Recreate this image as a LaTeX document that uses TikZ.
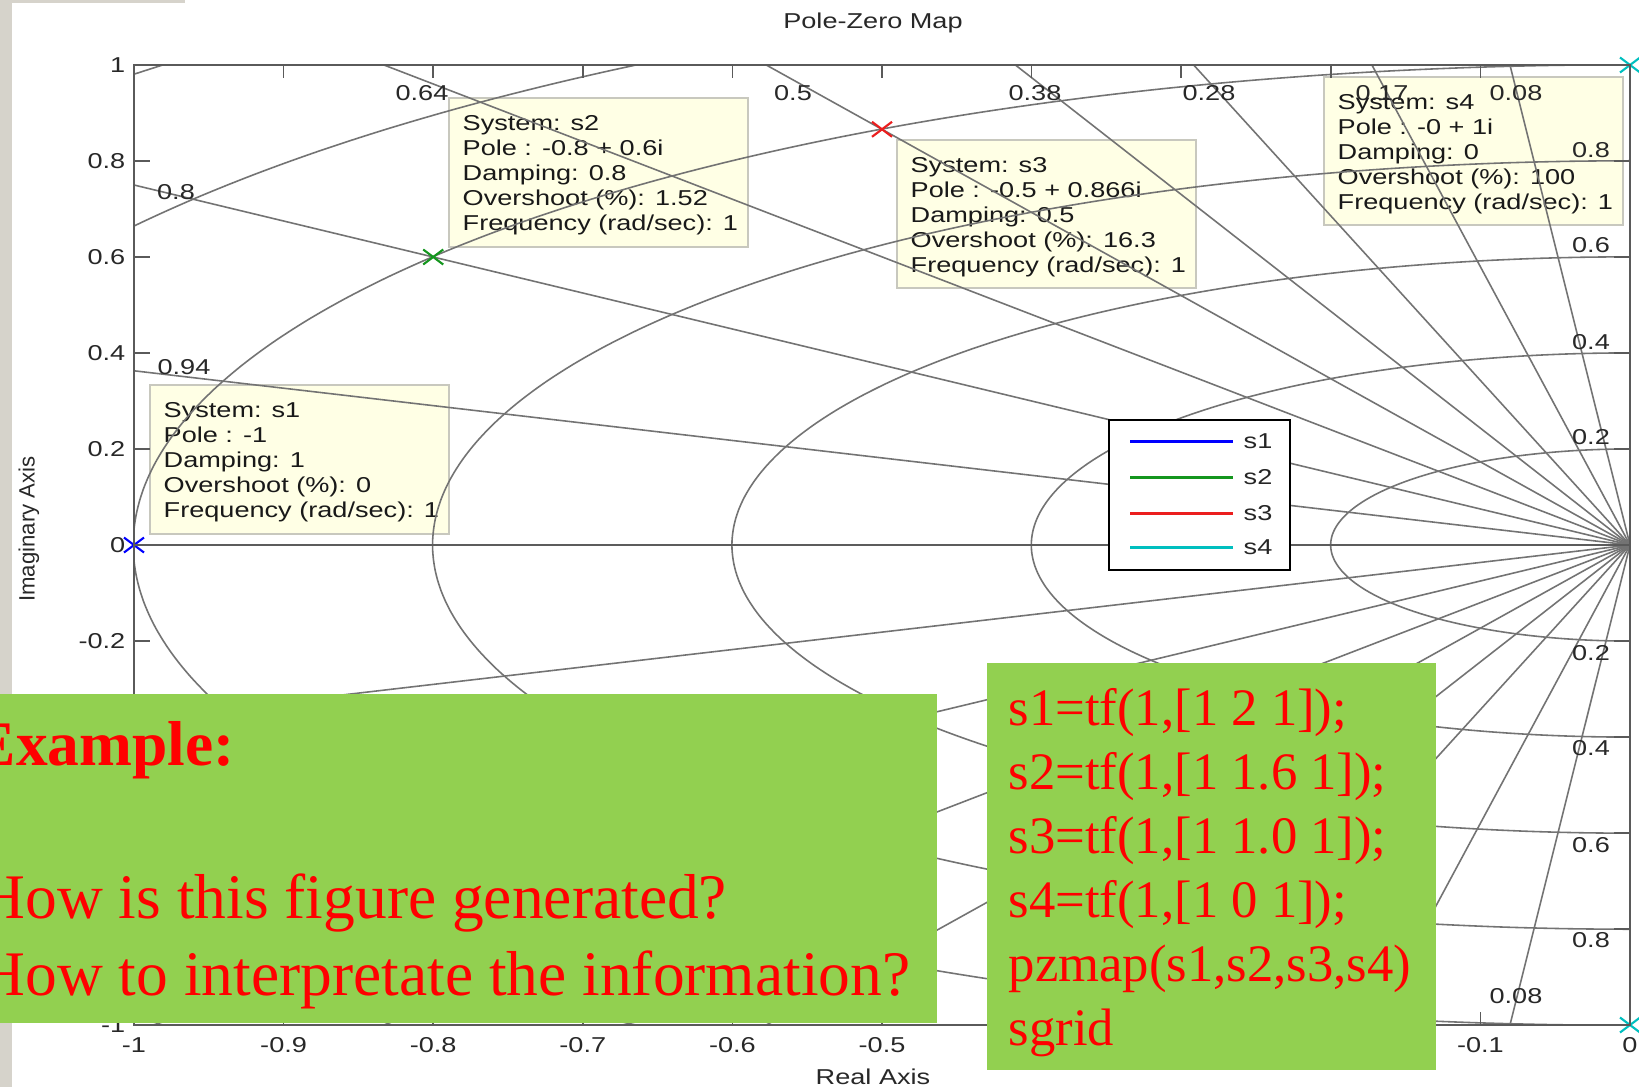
\documentclass[tikz,border=0pt]{standalone}
\usepackage{fontspec}
\setmainfont{Liberation Serif}
\newfontfamily\mlsans[FakeStretch=1.26]{Liberation Sans}
\newfontfamily\mlsansup{Liberation Sans}

\definecolor{slidegreen}{RGB}{146,208,80}
\definecolor{stripgray}{RGB}{214,211,203}
\definecolor{framegray}{RGB}{90,90,90}
\definecolor{labgray}{RGB}{40,40,40}
\definecolor{gridgray}{RGB}{115,115,115}
\definecolor{tipfill}{RGB}{255,255,229}
\definecolor{tipedge}{RGB}{200,200,190}
\definecolor{mlblue}{RGB}{0,0,255}
\definecolor{mlgreen}{RGB}{20,150,30}
\definecolor{mlred}{RGB}{235,30,30}
\definecolor{mlcyan}{RGB}{0,191,191}
\definecolor{slidered}{RGB}{255,0,0}

% five text lines of a data tip: x, y of the box corner, node prefix, lines
\newcommand\tiplines[4]{%
  \foreach \t [count=\i from 0] in {#4}
    \node[tiptext] (#3-\i) at (#1+13, #2+32+25*\i) {\t};}

\begin{document}
\begin{tikzpicture}[x=0.01cm, y=-0.01cm,
  ml/.style={font=\mlsans\fontsize{6.12pt}{7pt}\selectfont, inner sep=0pt},
  ticklab/.style={ml, text=labgray},
  tipbox/.style={draw=tipedge, fill=tipfill, line width=0.45pt},
  tiptext/.style={ml, anchor=base west, text=black!90},
  gridline/.style={draw=gridgray, line width=0.45pt},
  realaxis/.style={draw=gridgray!80!black, line width=0.6pt},
  axframe/.style={draw=framegray, line width=0.6pt},
  axtick/.style={draw=framegray, line width=0.5pt},
  polemark/.style={line width=0.6pt},
  legline/.style={line width=0.85pt},
  slidebox/.style={fill=slidegreen},
  slidetext/.style={anchor=base west, inner sep=0pt, text=slidered,
    font=\fontsize{18.05pt}{20pt}\selectfont},
  codetext/.style={anchor=base west, inner sep=0pt, text=slidered,
    font=\fontsize{14.98pt}{17pt}\selectfont}]

\useasboundingbox (0,0) rectangle (1639,1087);
\begin{scope}
\clip (0,0) rectangle (1639,1087);
\fill[white] (0,0) rectangle (1639,1087);
\fill[stripgray] (0,0) rectangle (12,1087);
\fill[stripgray] (0,0) rectangle (185,3);

% titles
\node[ml, anchor=base, text=labgray] (title) at (873,28) {Pole-Zero Map};
\node[ml, anchor=base, text=labgray] (xlab) at (873,1084) {Real Axis};
\node[font=\mlsansup\fontsize{6.3pt}{7pt}\selectfont, inner sep=0pt,
      rotate=90, text=labgray] (ylab) at (29,529) {Imaginary Axis};

% data tips
\draw[tipbox] (150,385) rectangle (449,534);
\draw[tipbox] (449,98) rectangle (748,247);
\draw[tipbox] (897,140) rectangle (1196,288);
\draw[tipbox] (1324,77) rectangle (1623,225);
\tiplines{150}{385}{tipa}{{System: s1},{Pole : -1},{Damping: 1},{Overshoot (\%): 0},{Frequency (rad/sec): 1}}
\tiplines{449}{98}{tipb}{{System: s2},{Pole : -0.8 + 0.6i},{Damping: 0.8},{Overshoot (\%): 1.52},{Frequency (rad/sec): 1}}
\tiplines{897}{140}{tipc}{{System: s3},{Pole : -0.5 + 0.866i},{Damping: 0.5},{Overshoot (\%): 16.3},{Frequency (rad/sec): 1}}
\tiplines{1324}{77}{tipd}{{System: s4},{Pole : -0 + 1i},{Damping: 0},{Overshoot (\%): 100},{Frequency (rad/sec): 1}}

% s-plane grid in data units
\begin{scope}[shift={(1630,545)}, x=14.96cm, y=4.8cm]
  \clip (-1,-1) rectangle (0,1);
  \foreach \w in {0.2,0.4,0.6,0.8,1.0,1.2,1.4}
    \draw[gridline] plot[domain=90:270, samples=120, smooth] ({\w*cos(\x)},{\w*sin(\x)});
  \foreach \z in {0.94,0.8,0.64,0.5,0.38,0.28,0.17,0.08} {
    \pgfmathsetmacro\s{sqrt(1-\z*\z)}
    \draw[gridline] (-2*\z,2*\s) -- (0,0) -- (-2*\z,-2*\s);
  }
  \draw[realaxis] (-1,0) -- (0,0);
\end{scope}

% damping labels
\foreach \v/\px [count=\i] in {0.64/422,0.5/793,0.38/1035,0.28/1209,0.17/1382,0.08/1516}
  \node[ticklab] (zt\i) at (\px,93.5) {\v};
\node[ticklab] (zb6) at (1516,996.5) {0.08};
\node[ticklab] (zl1) at (176,192) {0.8};
\node[ticklab] (zl3) at (184,367) {0.94};
% natural frequency labels
\foreach \v/\py [count=\i] in {0.8/150,0.6/245,0.4/342,0.2/437,0.2/653,0.4/748,0.6/845,0.8/940}
  \node[ticklab] (wn\i) at (1591,\py) {\v};

% poles
\coordinate (pa) at (134,545);
\coordinate (pb) at (433.2,257);
\coordinate (pbc) at (433.2,833);
\coordinate (pc) at (882,129.3);
\coordinate (pcc) at (882,960.7);
\coordinate (pd) at (1630,65);
\coordinate (pdc) at (1630,1025);
\foreach \p/\c in {pa/mlblue,pb/mlgreen,pbc/mlgreen,pc/mlred,pcc/mlred,pd/mlcyan,pdc/mlcyan}
  \draw[polemark, draw=\c] (\p) +(-10,-7.5) -- +(10,7.5) (\p) +(-10,7.5) -- +(10,-7.5);

% legend
\draw[fill=white, draw=black, line width=0.7pt] (1109,420) rectangle (1290,570);
\foreach \c/\l/\py [count=\i] in {mlblue/s1/441,mlgreen/s2/477,mlred/s3/513,mlcyan/s4/547} {
  \draw[legline, draw=\c] (1130,\py) -- (1233,\py);
  \node[ml, anchor=west, text=black!85] (leg\i) at (1243,\py) {\l};
}

% axes frame and ticks
\draw[axframe] (134,65) rectangle (1630,1025);
\foreach \i in {0,...,10} {
  \draw[axtick] (134+149.6*\i,65) -- ++(0,13);
  \draw[axtick] (134+149.6*\i,1025) -- ++(0,-13);
  \draw[axtick] (134,65+96*\i) -- ++(16,0);
  \draw[axtick] (1630,65+96*\i) -- ++(-16,0);
}
\foreach \v/\i in {-1/0,-0.9/1,-0.8/2,-0.7/3,-0.6/4,-0.5/5,-0.1/9,0/10}
  \node[ticklab, anchor=base] (xt\i) at (134+149.6*\i,1052) {\v};
\foreach \v/\i in {1/0,0.8/1,0.6/2,0.4/3,0.2/4,0/5,-0.2/6,-1/10}
  \node[ticklab, anchor=base east] (yt\i) at (126,65+96*\i+7.7) {\v};

% slide overlays
\fill[slidebox] (0,694) rectangle (937,1023);
\fill[slidebox] (987,663) rectangle (1436,1070);
\node[slidetext, font=\bfseries\fontsize{18.05pt}{20pt}\selectfont] (ex) at (-27,765) {Example:};
\node[slidetext] (qa) at (-21,918) {How is this figure generated?};
\node[slidetext] (qb) at (-21,995) {How to interpretate the information?};
\foreach \l [count=\i from 0] in {{s1=tf(1,[1 2 1]);},{s2=tf(1,[1 1.6 1]);},{s3=tf(1,[1 1.0 1]);},{s4=tf(1,[1 0 1]);},{pzmap(s1,s2,s3,s4)},{sgrid}}
  \node[codetext] (code\i) at (1008,725+64*\i) {\l};
\end{scope}
\end{tikzpicture}
\end{document}
